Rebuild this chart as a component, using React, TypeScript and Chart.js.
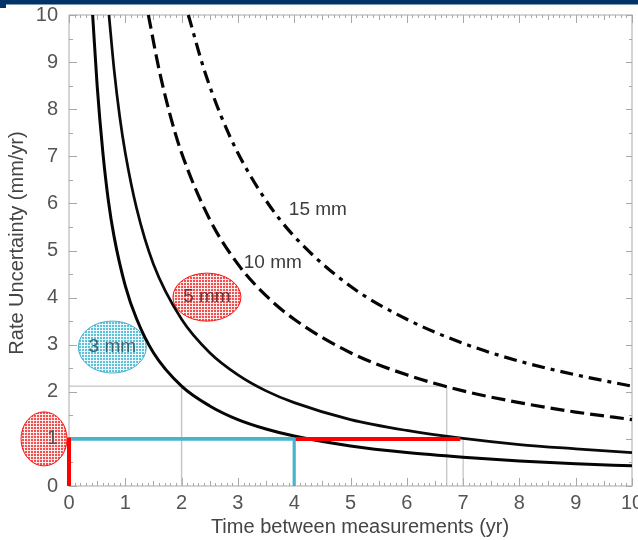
import { useEffect, useRef } from 'react';
import { Chart, registerables } from 'chart.js';

Chart.register(...registerables);

// ---- tick labels ----
const xTickValues = [0, 1, 2, 3, 4, 5, 6, 7, 8, 9, 10];
const yTickValues = [0, 1, 2, 3, 4, 5, 6, 7, 8, 9, 10];

// ---- curves ----
const curve3mmX = [0.42, 0.5, 0.6, 0.7, 0.8, 1, 1.2, 1.5, 2, 2.5, 3, 3.5, 4, 5, 6, 7, 8, 9, 10];
const curve3mmY = [10, 8.5, 7.1, 6.05, 5.3, 4.25, 3.55, 2.83, 2.12, 1.7, 1.41, 1.21, 1.06, 0.85, 0.71, 0.61, 0.53, 0.47, 0.43];

const curve5mmX = [0.71, 0.8, 0.9, 1, 1.2, 1.5, 2, 2.5, 3, 3.5, 4, 5, 6, 7, 8, 9, 10];
const curve5mmY = [10, 8.85, 7.85, 7.07, 5.9, 4.71, 3.54, 2.83, 2.36, 2.02, 1.77, 1.41, 1.18, 1.01, 0.88, 0.79, 0.71];

const curve10mmX = [1.41, 1.6, 1.8, 2, 2.5, 3, 3.5, 4, 5, 6, 7, 8, 9, 10];
const curve10mmY = [10, 8.84, 7.86, 7.07, 5.66, 4.71, 4.04, 3.54, 2.83, 2.36, 2.02, 1.77, 1.57, 1.41];

const curve15mmX = [2.12, 2.4, 2.7, 3, 3.5, 4, 5, 6, 7, 8, 9, 10];
const curve15mmY = [10, 8.84, 7.86, 7.07, 6.06, 5.3, 4.24, 3.54, 3.03, 2.65, 2.36, 2.12];

// ---- guide lines ----
const grayLevelX = [0, 6.71];
const grayLevelY = [2.12, 2.12];
const grayAt2X = [2, 2];
const grayAt2Y = [0, 2.12];
const grayAt671X = [6.71, 6.71];
const grayAt671Y = [0, 2.12];
const grayAt7X = [7, 7];
const grayAt7Y = [0, 1];

const redVertX = [0, 0];
const redVertY = [0, 1.03];
const redHorzX = [4, 6.95];
const redHorzY = [1, 1];

const cyanHorzX = [0, 4];
const cyanHorzY = [1, 1];
const cyanVertX = [4, 4];
const cyanVertY = [0, 1.02];

// ---- annotations ----
const curveLabels = [
  { text: '15 mm', x: 4.42, y: 5.86 },
  { text: '10 mm', x: 3.62, y: 4.73 },
];
const bubbleLabels = [
  { text: '5 mm', x: 2.45, y: 4.01, kind: 'red' },
  { text: '3 mm', x: 0.77, y: 2.95, kind: 'cyan' },
];

const FONT = "'Liberation Sans', Arial, Helvetica, sans-serif";

const pts = (xs: number[], ys: number[]) => xs.map((x, i) => ({ x, y: ys[i] }));

function makePattern(ctx: CanvasRenderingContext2D, base: string, line: string) {
  const c = document.createElement('canvas');
  c.width = 3;
  c.height = 3;
  const p = c.getContext('2d')!;
  p.fillStyle = base;
  p.fillRect(0, 0, 3, 3);
  p.fillStyle = line;
  p.fillRect(0, 0, 3, 1);
  p.fillRect(0, 0, 1, 3);
  return ctx.createPattern(c, 'repeat')!;
}

function drawEllipse(
  ctx: CanvasRenderingContext2D,
  cx: number,
  cy: number,
  rx: number,
  ry: number,
  kind: string
) {
  const red = kind === 'red';
  ctx.save();
  ctx.beginPath();
  ctx.ellipse(cx, cy, rx, ry, 0, 0, Math.PI * 2);
  ctx.fillStyle = red
    ? makePattern(ctx, '#f24e4e', 'rgba(255,240,240,0.95)')
    : makePattern(ctx, '#62c0d6', 'rgba(240,252,255,0.95)');
  ctx.fill();
  ctx.lineWidth = 1;
  ctx.strokeStyle = red ? '#ff1010' : '#45b0cc';
  ctx.stroke();
  ctx.restore();
}

const decorPlugin = {
  id: 'decor',
  beforeDraw(chart: any) {
    const { ctx, scales } = chart;
    const y = scales.y;
    const a = chart.chartArea;
    ctx.save();
    ctx.fillStyle = '#003468';
    ctx.fillRect(0, 0, chart.width, 4.5);
    ctx.fillRect(0, 0, 6, 8);
    ctx.restore();
    drawEllipse(ctx, a.left - 25, y.getPixelForValue(1), 23, 27, 'red');
  },
  beforeDatasetsDraw(chart: any) {
    const { ctx, scales } = chart;
    const x = scales.x;
    const y = scales.y;
    const a = chart.chartArea;
    ctx.save();
    ctx.strokeStyle = '#b8b8b8';
    ctx.lineWidth = 1.2;
    ctx.strokeRect(a.left, a.top, a.right - a.left, a.bottom - a.top);
    ctx.lineWidth = 1;
    ctx.strokeStyle = '#a8a8a8';
    ctx.beginPath();
    for (let i = 0; i <= 100; i++) {
      const px = Math.round(x.getPixelForValue(i / 10)) + 0.5;
      const len = i % 10 === 0 ? 8 : i % 5 === 0 ? 5 : 3;
      ctx.moveTo(px, a.bottom);
      ctx.lineTo(px, a.bottom - len);
      ctx.moveTo(px, a.top);
      ctx.lineTo(px, a.top + len);
    }
    for (let i = 0; i <= 20; i++) {
      const py = Math.round(y.getPixelForValue(i / 2)) + 0.5;
      const len = i % 2 === 0 ? 8 : 4;
      ctx.moveTo(a.left, py);
      ctx.lineTo(a.left + len, py);
      ctx.moveTo(a.right, py);
      ctx.lineTo(a.right - (i % 2 === 0 ? 6 : 3), py);
    }
    ctx.stroke();
    ctx.restore();
    bubbleLabels.forEach((b) => {
      const cx = x.getPixelForValue(b.x);
      const cy = y.getPixelForValue(b.y);
      if (b.kind === 'red') drawEllipse(ctx, cx, cy, 34, 24, 'red');
      else drawEllipse(ctx, cx, cy, 34, 26, 'cyan');
    });
  },
  afterDraw(chart: any) {
    const { ctx, scales } = chart;
    const x = scales.x;
    const y = scales.y;
    ctx.save();
    ctx.textAlign = 'center';
    ctx.textBaseline = 'middle';
    ctx.font = `19px ${FONT}`;
    curveLabels.forEach((l) => {
      ctx.fillStyle = '#3c3c3c';
      ctx.fillText(l.text, x.getPixelForValue(l.x), y.getPixelForValue(l.y));
    });
    bubbleLabels.forEach((b) => {
      ctx.fillStyle = b.kind === 'red' ? '#6e3434' : '#3a6470';
      ctx.fillText(b.text, x.getPixelForValue(b.x), y.getPixelForValue(b.y));
    });
    ctx.fillStyle = '#444';
    ctx.font = `20px ${FONT}`;
    ctx.fillText('Time between measurements (yr)', 360, 527);
    ctx.translate(17, 243);
    ctx.rotate(-Math.PI / 2);
    ctx.fillText('Rate Uncertainty (mm/yr)', 0, 0);
    ctx.restore();
  },
};

const zeroPad = (s: any) => {
  s.paddingLeft = 0;
  s.paddingRight = 0;
  s.paddingTop = 0;
  s.paddingBottom = 0;
};

export default function App() {
  const ref = useRef<HTMLCanvasElement | null>(null);

  useEffect(() => {
    document.body.style.margin = '0';
    const canvas = ref.current;
    if (!canvas) return;

    const line = (data: any[], color: string, width: number, extra: any = {}) => ({
      data,
      borderColor: color,
      backgroundColor: color,
      borderWidth: width,
      showLine: true,
      pointRadius: 0,
      pointHoverRadius: 0,
      fill: false,
      clip: 6,
      ...extra,
    });
    const curve = { cubicInterpolationMode: 'monotone' };

    const chart = new Chart(canvas, {
      type: 'scatter',
      data: {
        datasets: [
          line(pts(cyanVertX, cyanVertY), '#48b4cc', 3.2),
          line(pts(redVertX, redVertY), '#ff0000', 4),
          line(pts(cyanHorzX, cyanHorzY), '#48b4cc', 3.6),
          line(pts(redHorzX, redHorzY), '#ff0000', 4),
          line(pts(curve3mmX, curve3mmY), '#050505', 3, curve),
          line(pts(curve5mmX, curve5mmY), '#0a0a0a', 2.7, curve),
          line(pts(curve10mmX, curve10mmY), '#050505', 3.2, { ...curve, borderDash: [14, 6] }),
          line(pts(curve15mmX, curve15mmY), '#050505', 3.2, { ...curve, borderDash: [13, 6, 4, 6] }),
          line(pts(grayLevelX, grayLevelY), '#b4b4b4', 1),
          line(pts(grayAt2X, grayAt2Y), '#c4c4c4', 1.4),
          line(pts(grayAt671X, grayAt671Y), '#b4b4b4', 1),
          line(pts(grayAt7X, grayAt7Y), '#b4b4b4', 1),
        ],
      },
      options: {
        animation: false,
        responsive: true,
        maintainAspectRatio: false,
        events: [],
        layout: { autoPadding: false, padding: { top: 15, right: 6, left: 0, bottom: 0 } },
        plugins: { legend: { display: false }, tooltip: { enabled: false } },
        scales: {
          x: {
            type: 'linear',
            min: 0,
            max: 10,
            grid: { display: false, drawTicks: false },
            border: { display: false },
            afterBuildTicks: (s: any) => {
              s.ticks = xTickValues.map((v) => ({ value: v }));
            },
            afterFit: (s: any) => {
              s.height = 54;
              zeroPad(s);
            },
            ticks: { font: { size: 20, family: FONT }, color: '#555', padding: 5, maxRotation: 0 },
          },
          y: {
            type: 'linear',
            min: 0,
            max: 10,
            grid: { display: false, drawTicks: false },
            border: { display: false },
            afterBuildTicks: (s: any) => {
              s.ticks = yTickValues.map((v) => ({ value: v }));
            },
            afterFit: (s: any) => {
              s.width = 69;
              zeroPad(s);
            },
            ticks: { font: { size: 20, family: FONT }, color: '#555', padding: 11 },
          },
        },
      } as any,
      plugins: [decorPlugin],
    });
    return () => chart.destroy();
  }, []);

  return (
    <div style={{ position: 'relative', width: 638, height: 540, overflow: 'hidden', background: '#fff' }}>
      <canvas ref={ref} />
    </div>
  );
}
